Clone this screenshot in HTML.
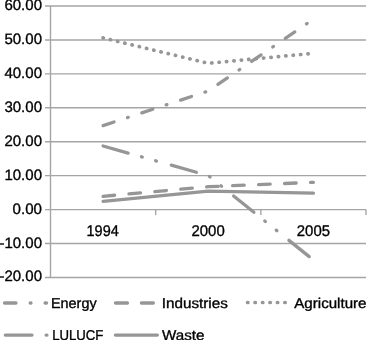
<!DOCTYPE html><html><head><meta charset="utf-8"><style>html,body{margin:0;padding:0;background:#fff;width:368px;height:340px;overflow:hidden}svg{display:block;will-change:transform}text{text-rendering:geometricPrecision;font-family:"Liberation Sans",sans-serif;fill:#000;stroke:#000;stroke-width:0.35px}</style></head><body>
<svg width="368" height="340" viewBox="0 0 368 340">
<line x1="45" y1="6.00" x2="366" y2="6.00" stroke="#a5a5a5" stroke-width="1.4"/>
<line x1="45" y1="39.93" x2="366" y2="39.93" stroke="#a5a5a5" stroke-width="1.4"/>
<line x1="45" y1="73.86" x2="366" y2="73.86" stroke="#a5a5a5" stroke-width="1.4"/>
<line x1="45" y1="107.79" x2="366" y2="107.79" stroke="#a5a5a5" stroke-width="1.4"/>
<line x1="45" y1="141.72" x2="366" y2="141.72" stroke="#a5a5a5" stroke-width="1.4"/>
<line x1="45" y1="175.65" x2="366" y2="175.65" stroke="#a5a5a5" stroke-width="1.4"/>
<line x1="45" y1="209.58" x2="366" y2="209.58" stroke="#a5a5a5" stroke-width="1.4"/>
<line x1="45" y1="243.51" x2="366" y2="243.51" stroke="#a5a5a5" stroke-width="1.4"/>
<line x1="45" y1="277.44" x2="366" y2="277.44" stroke="#a5a5a5" stroke-width="1.4"/>
<line x1="50.5" y1="6.00" x2="50.5" y2="277.44" stroke="#a5a5a5" stroke-width="1.4"/>
<line x1="155.67" y1="209.58" x2="155.67" y2="215.08" stroke="#a5a5a5" stroke-width="1.4"/>
<line x1="260.83" y1="209.58" x2="260.83" y2="215.08" stroke="#a5a5a5" stroke-width="1.4"/>
<line x1="366.00" y1="209.58" x2="366.00" y2="215.08" stroke="#a5a5a5" stroke-width="1.4"/>
<text transform="translate(42.0,10.00) scale(1,1.0)" font-size="15.0" text-anchor="end" textLength="37.6" lengthAdjust="spacingAndGlyphs">60.00</text>
<text transform="translate(42.0,43.93) scale(1,1.0)" font-size="15.0" text-anchor="end" textLength="37.6" lengthAdjust="spacingAndGlyphs">50.00</text>
<text transform="translate(42.0,77.86) scale(1,1.0)" font-size="15.0" text-anchor="end" textLength="37.6" lengthAdjust="spacingAndGlyphs">40.00</text>
<text transform="translate(42.0,111.79) scale(1,1.0)" font-size="15.0" text-anchor="end" textLength="37.6" lengthAdjust="spacingAndGlyphs">30.00</text>
<text transform="translate(42.0,145.72) scale(1,1.0)" font-size="15.0" text-anchor="end" textLength="37.6" lengthAdjust="spacingAndGlyphs">20.00</text>
<text transform="translate(42.0,179.65) scale(1,1.0)" font-size="15.0" text-anchor="end" textLength="37.6" lengthAdjust="spacingAndGlyphs">10.00</text>
<text transform="translate(42.0,213.58) scale(1,1.0)" font-size="15.0" text-anchor="end" textLength="29.4" lengthAdjust="spacingAndGlyphs">0.00</text>
<text transform="translate(42.0,247.51) scale(1,1.0)" font-size="15.0" text-anchor="end" textLength="42.6" lengthAdjust="spacingAndGlyphs">-10.00</text>
<text transform="translate(42.0,281.44) scale(1,1.0)" font-size="15.0" text-anchor="end" textLength="42.6" lengthAdjust="spacingAndGlyphs">-20.00</text>
<text x="102.65" y="235.6" font-size="15.5" text-anchor="middle" textLength="32.2" lengthAdjust="spacingAndGlyphs">1994</text>
<text x="208.10" y="235.6" font-size="15.5" text-anchor="middle" textLength="33.2" lengthAdjust="spacingAndGlyphs">2000</text>
<text x="313.40" y="235.6" font-size="15.5" text-anchor="middle" textLength="33.2" lengthAdjust="spacingAndGlyphs">2005</text>
<polyline points="103.08,125.60 208.25,91.00 313.42,19.20" fill="none" stroke="#969696" stroke-width="3.3" stroke-linecap="round" stroke-linejoin="round" stroke-dasharray="11.5 14.15 0.8 14.35"/>
<polyline points="103.08,196.30 208.25,186.70 313.42,182.30" fill="none" stroke="#969696" stroke-width="3.3" stroke-linecap="round" stroke-linejoin="round" stroke-dasharray="11.6 14.4"/>
<polyline points="103.08,37.90 208.25,63.30 313.42,53.30" fill="none" stroke="#969696" stroke-width="3.7" stroke-linecap="round" stroke-linejoin="round" stroke-dasharray="0.3 7.14"/>
<polyline points="103.08,146.00 208.25,175.60 313.42,260.00" fill="none" stroke="#969696" stroke-width="3.3" stroke-linecap="round" stroke-linejoin="round" stroke-dasharray="26 13.9 0.8 13.9 0.8 15.5"/>
<polyline points="103.08,201.30 208.25,191.20 313.42,193.10" fill="none" stroke="#969696" stroke-width="3.3" stroke-linecap="round" stroke-linejoin="round"/>
<line x1="4.5" y1="303.0" x2="46.5" y2="303.0" stroke="#969696" stroke-width="3.3" stroke-linecap="round" stroke-dasharray="11.5 14.2 0.8 14.1"/>
<text x="51.0" y="307.6" font-size="14.2" textLength="45.6" lengthAdjust="spacingAndGlyphs">Energy</text>
<line x1="115.45" y1="303.0" x2="157.45" y2="303.0" stroke="#969696" stroke-width="3.3" stroke-linecap="round" stroke-dasharray="12 13.9"/>
<text x="161.8" y="307.6" font-size="14.2" textLength="66.0" lengthAdjust="spacingAndGlyphs">Industries</text>
<line x1="247.6" y1="302.5" x2="289.6" y2="302.5" stroke="#969696" stroke-width="3.7" stroke-linecap="round" stroke-dasharray="0.3 7.15"/>
<text x="294.3" y="307.6" font-size="14.2" textLength="72.2" lengthAdjust="spacingAndGlyphs">Agriculture</text>
<line x1="5.3" y1="335.1" x2="47.3" y2="335.1" stroke="#969696" stroke-width="3.3" stroke-linecap="round" stroke-dasharray="26.7 14.15 0.8 14.3 0.8 14.75"/>
<text x="52.2" y="339.5" font-size="14.2" textLength="51.2" lengthAdjust="spacingAndGlyphs">LULUCF</text>
<line x1="115.4" y1="335.1" x2="157.4" y2="335.1" stroke="#969696" stroke-width="3.3" stroke-linecap="round"/>
<text x="162.0" y="339.5" font-size="14.2" textLength="42.4" lengthAdjust="spacingAndGlyphs">Waste</text>
</svg></body></html>
